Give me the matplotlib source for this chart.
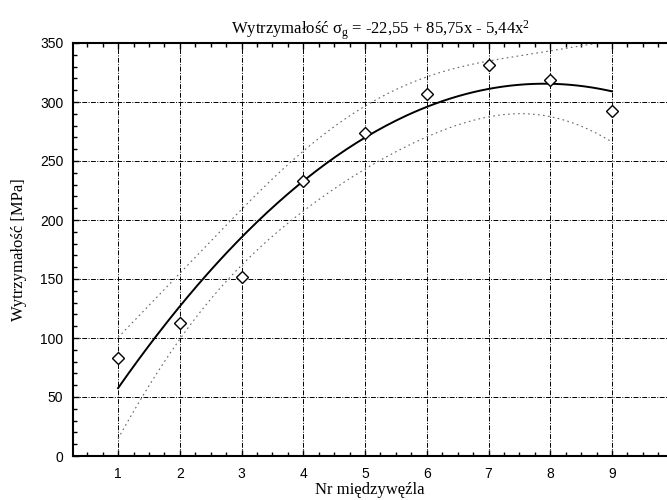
import numpy as np
import matplotlib
matplotlib.use("Agg")
import matplotlib.pyplot as plt
from matplotlib.ticker import MultipleLocator

# data
node_nr = [1, 2, 3, 4, 5, 6, 7, 8, 9]
strength = [83, 113, 152, 233, 274, 307, 331, 319, 292]
x_ticks = [1, 2, 3, 4, 5, 6, 7, 8, 9]
y_ticks = [0, 50, 100, 150, 200, 250, 300, 350]

title = "Wytrzymałość σ$_{\\mathrm{g}}$ = -22,55 + 85,75x - 5,44x$^{2}$"
xlabel = "Nr międzywęźla"
ylabel = "Wytrzymałość [MPa]"

plt.rcParams["mathtext.fontset"] = "custom"
plt.rcParams["mathtext.rm"] = "Liberation Serif"
plt.rcParams["mathtext.it"] = "Liberation Serif:italic"

x = np.array(node_nr, dtype=float)
y = np.array(strength, dtype=float)

# quadratic fit + 95% confidence band for the mean
X = np.column_stack([np.ones_like(x), x, x ** 2])
beta, *_ = np.linalg.lstsq(X, y, rcond=None)
resid = y - X @ beta
dof = len(x) - 3
s2 = resid @ resid / dof
cov = s2 * np.linalg.inv(X.T @ X)
t95 = 2.447

xs = np.linspace(x.min(), x.max(), 200)
Xs = np.column_stack([np.ones_like(xs), xs, xs ** 2])
fit = Xs @ beta
se = np.sqrt(np.einsum("ij,jk,ik->i", Xs, cov, Xs))

fig = plt.figure(figsize=(6.67, 5.0), dpi=100)
ax = fig.add_axes([73 / 667, 44 / 500, 1 - 73 / 667, 413 / 500])

ax.plot(xs, fit + t95 * se, color="#666666", lw=0.8, ls=(0, (1.5, 3)))
ax.plot(xs, fit - t95 * se, color="#666666", lw=0.8, ls=(0, (1.5, 3)))
ax.plot(xs, fit, color="black", lw=1.4)
ax.plot(x, y, ls="none", marker="D", markersize=6.5, markerfacecolor="white",
        markeredgecolor="black", markeredgewidth=1.0)

ax.set_xlim(0.27, 9.89)
ax.set_ylim(0, 350)
ax.set_xticks(x_ticks)
ax.set_yticks(y_ticks)
ax.xaxis.set_minor_locator(MultipleLocator(0.25))
ax.yaxis.set_minor_locator(MultipleLocator(10))
ax.tick_params(which="both", direction="in", top=True, right=False,
               labelsize=10, width=1.0, color="black")
ax.tick_params(which="major", length=4)
ax.tick_params(which="minor", length=3)
ax.tick_params(axis="y", pad=7)
ax.tick_params(axis="x", pad=8)
for lab in ax.get_xticklabels() + ax.get_yticklabels():
    lab.set_fontfamily("Liberation Sans")

ax.grid(True, which="major", color="black", lw=0.7, ls=(0, (5, 1.5, 1, 1.5)))
ax.set_axisbelow(True)

for side in ["left", "bottom", "top"]:
    ax.spines[side].set_linewidth(1.5)
ax.spines["right"].set_visible(False)

ax.set_title(title, family="Liberation Serif", fontsize=12, pad=6, x=0.517)
ax.set_xlabel(xlabel, family="Liberation Serif", fontsize=12, labelpad=1)
ax.set_ylabel(ylabel, family="Liberation Serif", fontsize=12, labelpad=9)

fig.savefig("out.png", dpi=100)
